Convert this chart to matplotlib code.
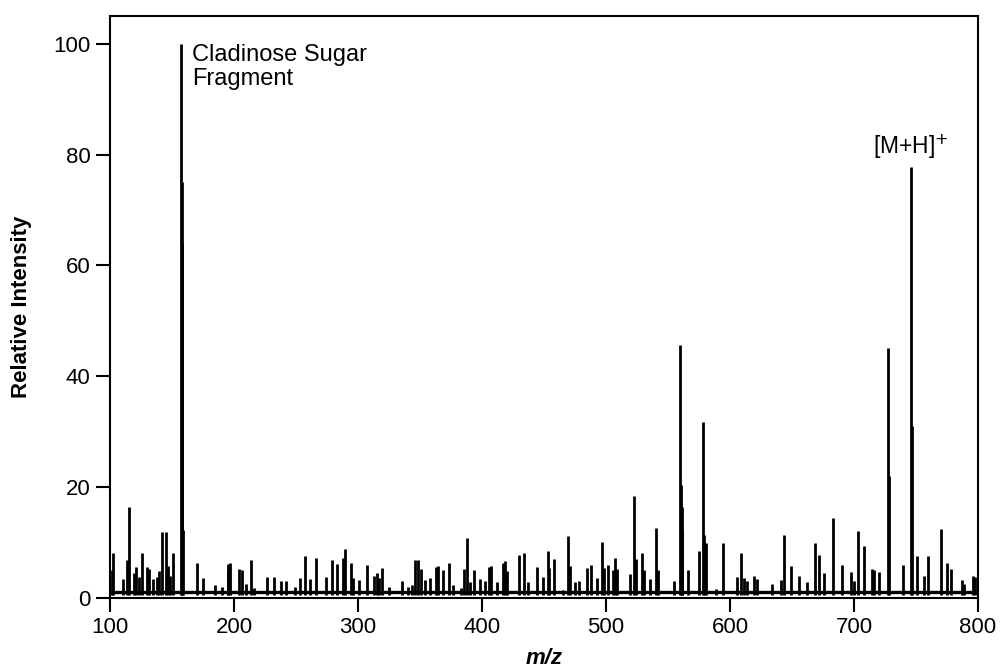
import matplotlib
matplotlib.use("Agg")
import matplotlib.pyplot as plt

plt.rcParams['font.family'] = ['Liberation Sans', 'DejaVu Sans']

# peak list: m/z and relative intensity
mz = [101.4, 102.7, 110.5, 113.4, 115.3, 119.6, 121.0, 123.6, 126.0, 129.6,
      131.5, 134.4, 138.2, 139.5, 142.2, 145.2, 146.6, 148.4, 151.0,
      157.5, 157.7, 157.9, 159.0, 169.9, 174.7, 184.7, 190.6, 194.8, 195.4, 196.5,
      204.0, 206.2, 209.4, 213.7, 216.0, 226.6, 232.5, 237.6, 241.9, 249.0,
      253.5, 257.5, 261.3, 266.1, 273.9, 279.0, 283.1, 287.6, 289.5, 294.4,
      296.3, 301.0, 307.0, 313.2, 315.0, 316.8, 319.6, 325.0, 335.2, 340.0,
      343.5, 346.0, 348.1, 350.8, 354.0, 358.3, 362.9, 364.8, 368.3, 373.1,
      376.5, 383.0, 385.7, 387.6, 390.3, 393.8, 398.4, 402.4, 405.9, 407.3,
      412.0, 417.2, 418.5, 420.0, 429.8, 434.1, 437.0, 444.4, 449.5, 453.0,
      454.0, 458.3, 465.0, 469.1, 471.0, 474.8, 478.0, 484.4, 487.9, 492.5,
      497.0, 498.5, 501.9, 505.3, 507.3, 509.0, 519.4, 522.6, 524.0, 529.3,
      531.0, 535.6, 540.3, 542.0, 555.0, 559.7, 560.3, 561.0, 561.6, 566.4,
      575.3, 578.3, 579.0, 580.5, 589.0, 594.1, 605.9, 608.9, 611.0, 614.0,
      619.6, 621.5, 633.6, 641.5, 643.5, 649.0, 655.6, 662.0, 668.5, 671.8,
      675.8, 683.3, 690.0, 697.6, 700.0, 703.5, 708.0, 714.3, 716.0, 720.2,
      727.2, 728.0, 739.3, 746.2, 747.0, 750.5, 756.5, 760.0, 770.2, 775.3,
      778.5, 786.8, 788.6, 796.2, 798.0]
intensity = [5.0, 8.2, 3.5, 6.9, 16.5, 4.5, 5.5, 3.7, 8.2, 5.6,
             5.3, 3.5, 3.8, 4.8, 11.9, 11.9, 5.7, 4.0, 8.2,
             100.0, 75.0, 64.0, 12.3, 6.3, 3.6, 2.4, 2.0, 5.0, 6.2, 6.3,
             5.3, 5.0, 2.6, 6.9, 1.8, 3.7, 3.7, 3.0, 3.0, 2.0,
             3.6, 7.6, 3.5, 7.3, 3.7, 6.9, 6.1, 7.2, 8.8, 6.3,
             3.6, 3.3, 6.0, 4.0, 4.5, 3.6, 5.4, 2.0, 3.0, 2.0,
             2.3, 6.8, 6.8, 5.3, 3.3, 3.6, 5.5, 5.7, 5.0, 6.3,
             2.3, 1.8, 5.3, 10.8, 2.8, 5.0, 3.5, 3.0, 5.5, 5.7,
             2.9, 6.3, 6.6, 4.8, 7.8, 8.1, 2.8, 5.6, 3.7, 8.4,
             5.4, 7.1, 1.5, 11.1, 5.7, 2.8, 3.0, 5.4, 5.9, 3.6,
             10.1, 5.4, 5.9, 5.0, 7.2, 5.3, 4.3, 18.4, 7.0, 8.2,
             5.0, 3.5, 12.6, 5.0, 3.0, 45.6, 20.4, 16.5, 12.0, 5.0,
             8.5, 31.8, 11.4, 10.0, 1.7, 10.0, 3.7, 8.2, 3.6, 3.0,
             4.0, 3.5, 2.6, 3.2, 11.3, 5.7, 4.0, 2.8, 10.0, 7.8,
             4.5, 14.4, 6.0, 4.6, 3.0, 12.0, 9.3, 5.3, 5.0, 4.7,
             45.1, 22.0, 6.0, 77.8, 31.0, 7.5, 4.0, 7.5, 12.4, 6.3,
             5.3, 3.2, 2.6, 4.0, 3.8]
baseline = 1.0

fig = plt.figure(figsize=(10.01, 6.70), dpi=100)
ax = fig.add_axes([0.1099, 0.1075, 0.8671, 0.8685])

ax.hlines(baseline, 100, 800, color='black', linewidth=2.4)
ax.vlines(mz, 0.6, intensity, color='black', linewidth=2.0)

ax.set_xlim(100, 800)
ax.set_ylim(0, 105)
ax.set_xticks(range(100, 801, 100))
ax.set_yticks(range(0, 101, 20))
ax.tick_params(direction='out', length=10, width=1.5, labelsize=16, pad=4)
for s in ax.spines.values():
    s.set_linewidth(1.5)

ax.set_xlabel('m/z', fontsize=16, fontweight='bold', fontstyle='italic', labelpad=7)
ax.set_ylabel('Relative Intensity', fontsize=16, fontweight='bold', labelpad=15)

ax.text(166, 99.9, 'Cladinose Sugar\nFragment', fontsize=17, va='top', ha='left',
        linespacing=1.08)
ax.text(746, 78.9, r'[M+H]$^{+}$', fontsize=16.5, va='bottom', ha='center')

fig.savefig('out.png', dpi=100)
